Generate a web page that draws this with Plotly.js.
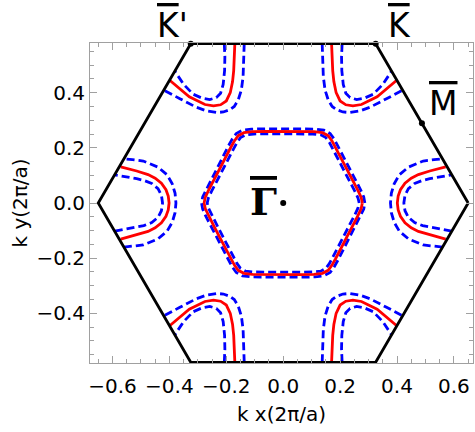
<!DOCTYPE html>
<html><head><meta charset="utf-8">
<script src="https://cdn.plot.ly/plotly-3.0.1.min.js"></script>
<style>html,body{margin:0;padding:0;background:#fff}</style>
</head><body><div id="chart" style="width:475px;height:432px"></div>
<script>
// Brillouin zone hexagon
const bzX = [0.65, 0.325, -0.325, -0.65, -0.325, 0.325, 0.65];
const bzY = [0, 0.5774, 0.5774, 0, -0.5774, -0.5774, 0];
// high-symmetry points K', K, M, Gamma
const ptX = [-0.325, 0.325, 0.4875, 0];
const ptY = [0.5774, 0.5774, 0.2887, 0];
const ptNames = ["K", "K", "M", "\u0393"];
const ptSuffix = ["'", "", "", ""];
const lblX = [-0.388, 0.407, 0.562, -0.070];
const lblY = [0.986, 0.986, 0.81, 0.505];

// central contour, first quadrant (from vertex on +x axis to flat top)
const gRedX = [0.278,0.274,0.263,0.243,0.223,0.203,0.184,0.171,0.158,0.138,0.108,0.060,0.000];
const gRedY = [0.000,0.020,0.045,0.085,0.125,0.165,0.202,0.226,0.244,0.255,0.259,0.260,0.260];
const gOutX = [0.287,0.283,0.272,0.252,0.232,0.212,0.193,0.179,0.165,0.143,0.112,0.060,0.000];
const gOutY = [0.000,0.022,0.048,0.088,0.128,0.168,0.206,0.232,0.252,0.264,0.268,0.269,0.269];
const gInX  = [0.267,0.263,0.252,0.232,0.212,0.192,0.174,0.162,0.150,0.132,0.104,0.060,0.000];
const gInY  = [0.000,0.018,0.042,0.082,0.122,0.162,0.197,0.220,0.237,0.247,0.250,0.251,0.251];

// right pocket (near zone corner on +x), upper half from tip to zone edge
const mRedX = [0.401,0.404,0.412,0.428,0.450,0.475,0.515,0.571];
const mRedY = [0.000,0.025,0.048,0.072,0.090,0.103,0.116,0.131];
const mOutX = [0.377,0.380,0.390,0.408,0.440,0.492,0.530,0.560];
const mOutY = [0.000,0.035,0.070,0.102,0.130,0.152,0.157,0.160];
const mInX  = [0.424,0.428,0.440,0.462,0.490,0.515,0.555,0.592];
const mInY  = [0.000,0.028,0.052,0.071,0.082,0.088,0.095,0.102];

// upper-right pocket, from top zone edge down and round to slanted zone edge
const kRedX = [0.170,0.171,0.174,0.178,0.186,0.200,0.220,0.245,0.275,0.330,0.400];
const kRedY = [0.577,0.530,0.480,0.440,0.400,0.370,0.356,0.352,0.357,0.385,0.446];
const kOutX = [0.137,0.138,0.141,0.147,0.158,0.172,0.188,0.210,0.234,0.270,0.305,0.363,0.418];
const kOutY = [0.577,0.520,0.458,0.410,0.374,0.350,0.338,0.330,0.328,0.334,0.347,0.378,0.408];
const kInX  = [0.207,0.205,0.206,0.211,0.220,0.235,0.258,0.285,0.316,0.350,0.381];
const kInY  = [0.577,0.530,0.480,0.430,0.398,0.382,0.375,0.380,0.394,0.430,0.478];

function closedFromQuadrant(x, y) {
  const X = [], Y = [];
  const n = x.length;
  for (let i = 0; i < n; i++) { X.push(x[i]); Y.push(y[i]); }
  for (let i = n - 2; i >= 0; i--) { X.push(-x[i]); Y.push(y[i]); }
  for (let i = 1; i < n; i++) { X.push(-x[i]); Y.push(-y[i]); }
  for (let i = n - 2; i >= 0; i--) { X.push(x[i]); Y.push(-y[i]); }
  return [X, Y];
}
function pocketFromHalf(x, y) {
  const X = [], Y = [];
  for (let i = x.length - 1; i >= 1; i--) { X.push(x[i]); Y.push(-y[i]); }
  for (let i = 0; i < x.length; i++) { X.push(x[i]); Y.push(y[i]); }
  return [X, Y];
}
function mirrors(x, y, pairs) {
  const X = [], Y = [];
  pairs.forEach(([sx, sy]) => {
    for (let i = 0; i < x.length; i++) { X.push(sx * x[i]); Y.push(sy * y[i]); }
    X.push(null); Y.push(null);
  });
  return [X, Y];
}
function family(gx, gy, mx, my, kx, ky) {
  const c = closedFromQuadrant(gx, gy);
  const p = pocketFromHalf(mx, my);
  const m = mirrors(p[0], p[1], [[1, 1], [-1, 1]]);
  const k = mirrors(kx, ky, [[1, 1], [-1, 1], [1, -1], [-1, -1]]);
  return [c[0].concat([null], m[0], k[0]), c[1].concat([null], m[1], k[1])];
}

const red = family(gRedX, gRedY, mRedX, mRedY, kRedX, kRedY);
const out = family(gOutX, gOutY, mOutX, mOutY, kOutX, kOutY);
const inn = family(gInX, gInY, mInX, mInY, kInX, kInY);

const dashLine = {color: '#0000ff', width: 2.8, dash: '8px,4px'};
const traces = [
  {x: out[0], y: out[1], mode: 'lines', line: dashLine, hoverinfo: 'skip'},
  {x: inn[0], y: inn[1], mode: 'lines', line: dashLine, hoverinfo: 'skip'},
  {x: red[0], y: red[1], mode: 'lines', line: {color: '#ff0000', width: 2.8}, hoverinfo: 'skip'},
  {x: bzX, y: bzY, mode: 'lines', line: {color: '#000', width: 2.8}, hoverinfo: 'skip'},
  {x: ptX, y: ptY, mode: 'markers', marker: {color: '#000', size: 6}, cliponaxis: false, hoverinfo: 'skip'}
];

const annFonts = [
  {family: 'DejaVu Sans', size: 33, color: '#000'},
  {family: 'DejaVu Sans', size: 33, color: '#000'},
  {family: 'DejaVu Sans', size: 33, color: '#000'},
  {family: 'DejaVu Serif', size: 38, color: '#000', weight: 'bold'}
];
const annotations = ptNames.map((t, i) => ({
  text: '<span style="text-decoration:overline">' + t + '</span>' + ptSuffix[i],
  x: lblX[i], xref: 'x', y: lblY[i], yref: 'paper',
  xanchor: 'center', yanchor: i < 2 ? 'bottom' : 'middle',
  showarrow: false, font: annFonts[i]
}));

const axisBase = {
  showgrid: false, zeroline: false, showline: true, linecolor: '#a0a0a0', linewidth: 1,
  mirror: 'allticks', ticks: 'inside', ticklen: 7, tickwidth: 1, tickcolor: '#a0a0a0',
  dtick: 0.2, tick0: 0, tickformat: '.1f',
  tickfont: {family: 'DejaVu Sans', size: 20, color: '#000'},
  minor: {dtick: 0.05, tick0: 0, ticks: 'inside', ticklen: 4, tickwidth: 1, tickcolor: '#a0a0a0', showgrid: false}
};
const titleFont = {family: 'DejaVu Sans', size: 20, color: '#000'};
const layout = {
  width: 475, height: 432,
  margin: {l: 90, r: 2, t: 43, b: 69},
  paper_bgcolor: '#fff', plot_bgcolor: '#fff',
  showlegend: false,
  xaxis: Object.assign({}, axisBase, {
    range: [-0.679, 0.667],
    ticklabelstandoff: 5,
    title: {text: 'k x(2π/a)', font: titleFont, standoff: 9}
  }),
  yaxis: Object.assign({}, axisBase, {
    range: [-0.58, 0.58],
    title: {text: 'k y(2π/a)', font: titleFont, standoff: 3}
  }),
  annotations: annotations
};
Plotly.newPlot('chart', traces, layout, {staticPlot: true, displayModeBar: false});
</script></body></html>
